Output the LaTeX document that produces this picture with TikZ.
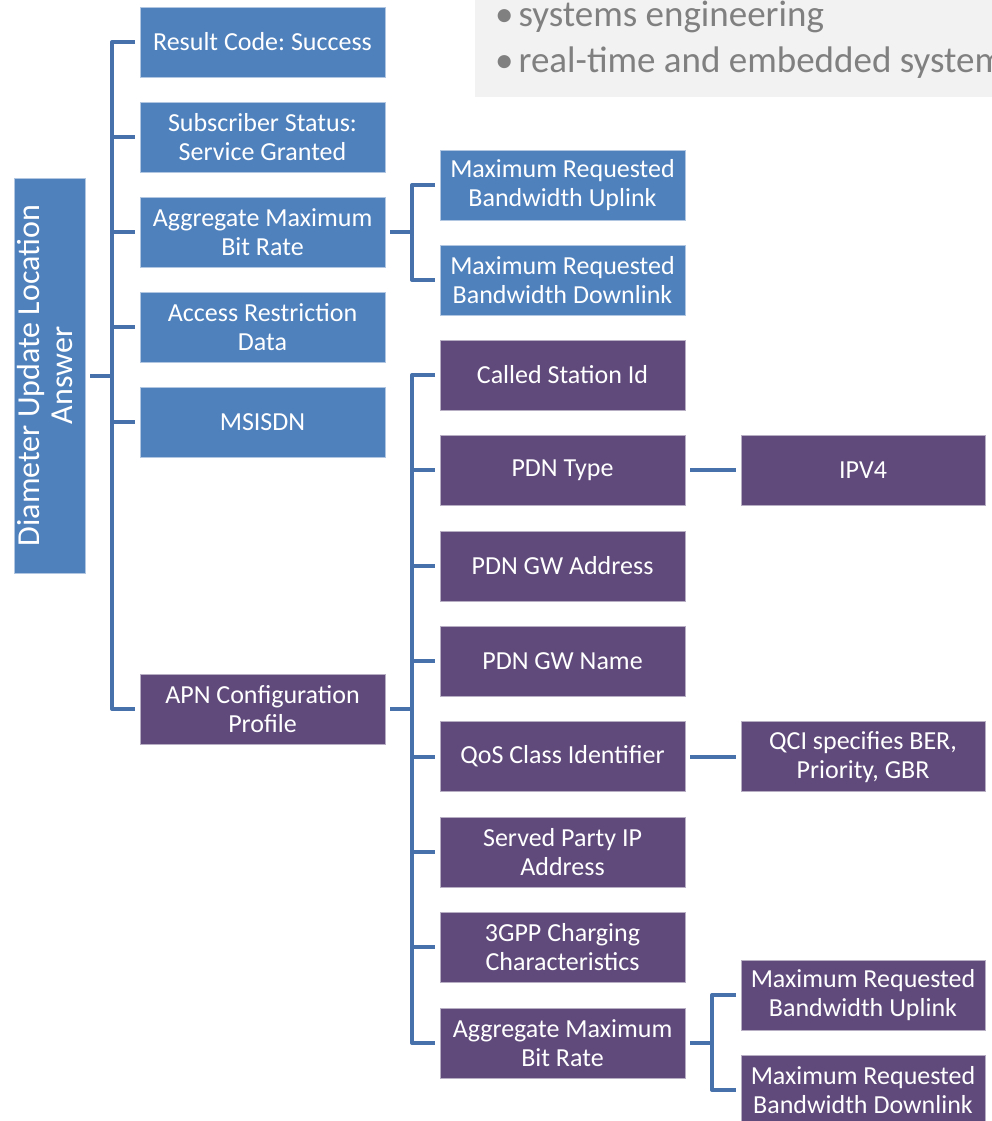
\documentclass[tikz,border=0pt]{standalone}
\usepackage{fontspec}
\setmainfont{Carlito}
\frenchspacing
\usetikzlibrary{positioning,calc}
\definecolor{boxblue}{HTML}{4F81BD}
\definecolor{boxpurple}{HTML}{604A7B}
\definecolor{linkblue}{HTML}{4671AA}
\definecolor{notegray}{HTML}{F2F2F2}
\definecolor{notetext}{HTML}{808080}

\begin{document}
\begin{tikzpicture}[x=1pt,y=-1pt,
box/.style={rectangle,minimum width=245pt,minimum height=70pt,inner sep=0pt,outer sep=0pt,
  align=center,text=white,font=\fontsize{26}{29}\selectfont},
bluebox/.style={box,fill=boxblue,draw=boxblue!45!white,line width=0.6pt},
purplebox/.style={box,fill=boxpurple,draw=boxpurple!45!white,line width=0.6pt},
conn/.style={draw=linkblue,line width=4pt,line join=round}]

\useasboundingbox (0,0) rectangle (992,1121);

% note box at the top
\fill[notegray] (475,-10) rectangle (1010,97);
\node[anchor=base west,text=notetext,font=\fontsize{37}{44}\selectfont,inner sep=0pt] (note1) at (495,27)
  {\textbullet\hspace{5pt}systems engineering};
\node[anchor=base west,text=notetext,font=\fontsize{37}{44}\selectfont,inner sep=0pt] (note2) at (495,73)
  {\textbullet\hspace{5pt}real-time and embedded systems};

% root
\node[fill=boxblue,draw=boxblue!45!white,line width=0.6pt,minimum width=71pt,minimum height=395pt,
  inner sep=0pt,text=white] (root) at (49.5,375.5)
  {\rotatebox{90}{\fontsize{32}{33}\selectfont\begin{tabular}{@{}c@{}}Diameter Update Location\\Answer\end{tabular}}};

% first level
\node[bluebox] (rc) at (262.5,42) {Result Code: Success};
\node[bluebox,below=25pt of rc] (ss) {Subscriber Status:\\Service Granted};
\node[bluebox,below=25pt of ss] (ambr) {Aggregate Maximum\\Bit Rate};
\node[bluebox,below=25pt of ambr] (ard) {Access Restriction\\Data};
\node[bluebox,below=25pt of ard] (msisdn) {MSISDN};
\node[purplebox] (apn) at (262.5,709) {APN Configuration\\Profile};

% second level
\node[bluebox] (mbul) at (562.5,185) {Maximum Requested\\Bandwidth Uplink};
\node[bluebox,below=25pt of mbul] (mbdl) {Maximum Requested\\Bandwidth Downlink};

\node[purplebox] (csid) at (562.5,375) {Called Station Id};
\node[purplebox,below=25.4pt of csid] (pdntype) {PDN Type};
\node[purplebox,below=25.4pt of pdntype] (gwaddr) {PDN GW Address};
\node[purplebox,below=25.4pt of gwaddr] (gwname) {PDN GW Name};
\node[purplebox,below=25.4pt of gwname] (qos) {QoS Class Identifier};
\node[purplebox,below=25.4pt of qos] (spip) {Served Party IP\\Address};
\node[purplebox,below=25.4pt of spip] (charging) {3GPP Charging\\Characteristics};
\node[purplebox,below=25.4pt of charging] (ambr2) {Aggregate Maximum\\Bit Rate};

% third level
\node[purplebox,minimum width=244pt,right=56pt of pdntype] (ipv4) {IPV4};
\node[purplebox,minimum width=244pt,right=56pt of qos] (qci) {QCI specifies BER,\\Priority, GBR};
\node[purplebox,minimum width=244pt] (mbul2) at (863,995) {Maximum Requested\\Bandwidth Uplink};
\node[purplebox,minimum width=244pt,below=25pt of mbul2] (mbdl2) {Maximum Requested\\Bandwidth Downlink};

% connectors
\coordinate (t1) at ($(root.east)+(27,0)$);
\draw[conn] ([xshift=5pt]root.east) -- (t1);
\draw[conn] ([xshift=-5pt]rc.west) -| (t1 |- apn.west) -- ([xshift=-5pt]apn.west);
\foreach \n in {ss,ambr,ard,msisdn}
  \draw[conn] (t1 |- \n.west) -- ([xshift=-5pt]\n.west);

\coordinate (t2) at ($(ambr.east)+(27,0)$);
\draw[conn] ([xshift=5pt]ambr.east) -- (t2);
\draw[conn] ([xshift=-5pt]mbul.west) -| (t2 |- mbdl.west) -- ([xshift=-5pt]mbdl.west);

\coordinate (t3) at ($(apn.east)+(27,0)$);
\draw[conn] ([xshift=5pt]apn.east) -- (t3);
\draw[conn] ([xshift=-5pt]csid.west) -| (t3 |- ambr2.west) -- ([xshift=-5pt]ambr2.west);
\foreach \n in {pdntype,gwaddr,gwname,qos,spip,charging}
  \draw[conn] (t3 |- \n.west) -- ([xshift=-5pt]\n.west);

\draw[conn] ([xshift=5pt]pdntype.east) -- ([xshift=-5pt]ipv4.west);
\draw[conn] ([xshift=5pt]qos.east) -- ([xshift=-5pt]qci.west);

\coordinate (t4) at ($(ambr2.east)+(27,0)$);
\draw[conn] ([xshift=5pt]ambr2.east) -- (t4);
\draw[conn] ([xshift=-5pt]mbul2.west) -| (t4 |- mbdl2.west) -- ([xshift=-5pt]mbdl2.west);

\end{tikzpicture}
\end{document}
